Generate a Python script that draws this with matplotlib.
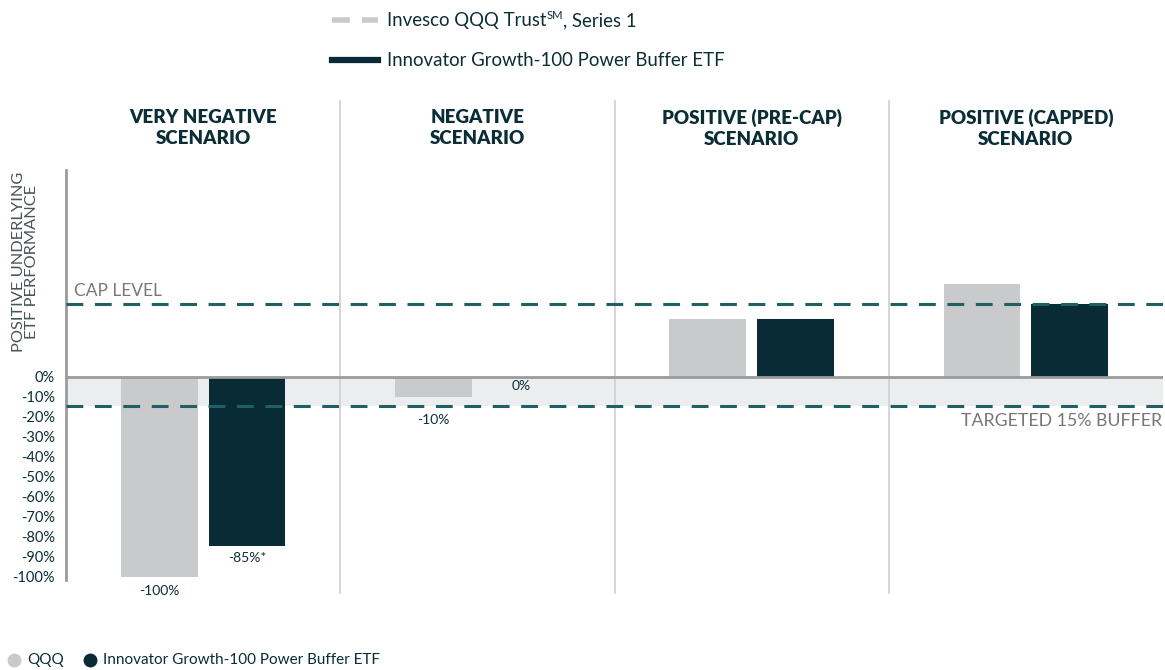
import matplotlib.pyplot as plt
from matplotlib.lines import Line2D

plt.rcParams['font.family'] = ['Lato', 'DejaVu Sans']

# data
scenarios = ["VERY NEGATIVE\nSCENARIO", "NEGATIVE\nSCENARIO",
             "POSITIVE (PRE-CAP)\nSCENARIO", "POSITIVE (CAPPED)\nSCENARIO"]
qqq = [-100, -10, 29, 46.5]
innovator = [-84.5, 0, 29, 36.5]
qqq_labels = ["-100%", "-10%", "", ""]
inn_labels = ["-85%*", "0%", "", ""]
cap_level = 36.5
buffer_level = -14.5
yticks = list(range(0, -101, -10))
ytick_labels = [f"{v}%" for v in yticks]

# colors
c_qqq = "#C9CACC"
c_inn = "#082B36"
c_dash = "#1F6062"
c_text = "#0A2D36"
c_gray_txt = "#777777"

W, H = 1165, 670
fig = plt.figure(figsize=(W / 100, H / 100), dpi=100)
ax = fig.add_axes([66 / W, 1 - 580 / H, (1163 - 66) / W, 410 / H])
ax.set_xlim(0, 4)
ax.set_ylim(-101.5, 103.5)

# buffer band and zero line
ax.axhspan(buffer_level, 0, color="#ECEDEF", zorder=0, lw=0)
ax.axhline(0, color="#9B9B9D", lw=2, zorder=3)

# bars
w = 0.28
for i in range(len(scenarios)):
    ax.bar(i + 0.34, qqq[i], width=w, color=c_qqq, zorder=2)
    if innovator[i] != 0:
        ax.bar(i + 0.66, innovator[i], width=w, color=c_inn, zorder=2)
    if qqq_labels[i]:
        # keep small labels below the buffer line
        y = min(qqq[i], buffer_level) - 4
        ax.text(i + 0.34, y, qqq_labels[i], ha="center", va="top",
                fontsize=10, color=c_text)
    if inn_labels[i]:
        y = innovator[i] - 3 if innovator[i] < 0 else -1.5
        ax.text(i + 0.66, y, inn_labels[i], ha="center", va="top",
                fontsize=10, color=c_text)

# dashed reference lines
ax.axhline(cap_level, color=c_dash, lw=2.2, dashes=(5.5, 3.8), zorder=4)
ax.axhline(buffer_level, color=c_dash, lw=2.2, dashes=(5.5, 3.8), zorder=4)
ax.text(0.03, cap_level + 2.5, "CAP LEVEL", fontsize=12.5, color=c_gray_txt,
        va="bottom", ha="left")
ax.text(3.995, buffer_level - 3.5, "TARGETED 15% BUFFER", fontsize=12.8,
        color=c_gray_txt, va="top", ha="right")

# scenario dividers and headings
for i in range(1, 4):
    ax.plot([i, i], [-108, 138], color="#D0D0D2", lw=1.2, clip_on=False, zorder=1)
for i, s in enumerate(scenarios):
    ax.text(i + 0.5, 124.5, s, ha="center", va="center", fontsize=13.5,
            fontweight="heavy", color=c_text, linespacing=1.3)

# axes styling
for side in ["top", "right", "bottom"]:
    ax.spines[side].set_visible(False)
ax.spines["left"].set_color("#9B9B9D")
ax.spines["left"].set_linewidth(2)
ax.set_xticks([])
ax.set_yticks(yticks)
ax.set_yticklabels(ytick_labels, fontsize=10.5, color=c_text)
ax.tick_params(axis="y", length=0, pad=8)
fig.text(0.022, 1 - 262 / H, "POSITIVE UNDERLYING\nETF PERFORMANCE",
         rotation=90, ha="center", va="center", fontsize=11.8,
         color="#4A5458", linespacing=0.95)

# top legend
fig.add_artist(Line2D([332 / W, 378 / W], [1 - 20 / H] * 2,
                      color=c_qqq, lw=4, dashes=(3.2, 2.2)))
fig.add_artist(Line2D([332 / W, 378 / W], [1 - 60 / H] * 2,
                      color=c_inn, lw=4.5))
renderer = fig.canvas.get_renderer()
base = 1 - 26 / H
t1 = fig.text(387 / W, base, "Invesco QQQ Trust", fontsize=13.4,
              color=c_text, va="baseline")
x2 = t1.get_window_extent(renderer).x1 / W
t2 = fig.text(x2, base + 7 / H, "SM", fontsize=8, color=c_text, va="baseline")
x3 = t2.get_window_extent(renderer).x1 / W
fig.text(x3, base, ", Series 1", fontsize=13.4, color=c_text, va="baseline")
fig.text(387 / W, 1 - 60 / H, "Innovator Growth-100 Power Buffer ETF",
         fontsize=13.4, color=c_text, va="center")

# bottom legend
fig.add_artist(Line2D([14 / W], [1 - 660 / H], marker="o", ms=9,
                      color=c_qqq, lw=0))
fig.text(27 / W, 1 - 660 / H, "QQQ", fontsize=11, color=c_text, va="center")
fig.add_artist(Line2D([90 / W], [1 - 660 / H], marker="o", ms=9,
                      color=c_inn, lw=0))
fig.text(103 / W, 1 - 660 / H, "Innovator Growth-100 Power Buffer ETF",
         fontsize=11, color=c_text, va="center")

fig.savefig("out.png", dpi=100)
